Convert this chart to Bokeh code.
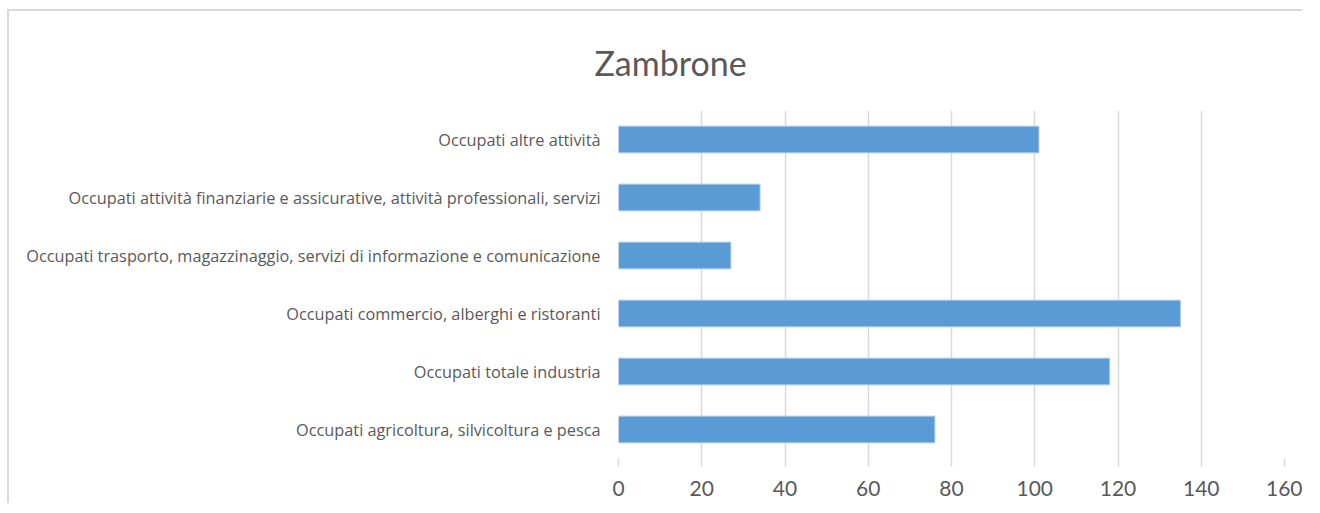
from bokeh.plotting import figure
from bokeh.models import Range1d, FactorRange
from bokeh.embed import file_html
from bokeh.resources import INLINE

title_text = "Zambrone"
categories = [
    "Occupati agricoltura, silvicoltura e pesca",
    "Occupati totale industria",
    "Occupati commercio, alberghi e ristoranti",
    "Occupati trasporto, magazzinaggio, servizi di informazione e comunicazione",
    "Occupati attività finanziarie e assicurative, attività professionali, servizi",
    "Occupati altre attività",
]
values = [76, 118, 135, 27, 34, 101]
x_ticks = [0, 20, 40, 60, 80, 100, 120, 140, 160]

FONT = "Lato"
LABEL_FONT = "Open Sans"
GREY = "#595959"

p = figure(
    width=1295, height=494,
    y_range=FactorRange(factors=categories),
    x_range=Range1d(0, 160),
    output_backend="svg", toolbar_location=None,
    min_border_left=609, min_border_right=20, min_border_top=99, min_border_bottom=47,
)
p.margin = (9, 0, 0, 7)
p.styles = {"border-left": "2px solid #d9d9d9", "border-top": "2px solid #d9d9d9"}

p.hbar(y=categories, right=values, left=0, height=0.46,
       fill_color="#5b9bd5", line_color="#a9c8ea", line_width=1)

p.title.text = title_text
p.title.align = "left"
p.title.offset = -24
p.title.standoff = 56
p.title.text_font = FONT
p.title.text_font_size = "34px"
p.title.text_font_style = "normal"
p.title.text_color = GREY

p.outline_line_color = None
p.background_fill_color = "white"
p.border_fill_color = "white"

p.ygrid.grid_line_color = None
p.xgrid.grid_line_color = "#d9d9d9"
p.xgrid.grid_line_width = 1.5
p.xaxis.ticker = x_ticks

p.xaxis.axis_line_color = None
p.xaxis.major_tick_line_color = "#d9d9d9"
p.xaxis.major_tick_line_width = 1.5
p.xaxis.major_tick_out = 8
p.xaxis.major_tick_in = 0
p.xaxis.minor_tick_line_color = None
p.xaxis.major_label_text_font = FONT
p.xaxis.major_label_text_font_size = "21px"
p.xaxis.major_label_text_color = GREY
p.xaxis.major_label_standoff = 14

p.yaxis.axis_line_color = None
p.yaxis.major_tick_line_color = None
p.yaxis.minor_tick_line_color = None
p.yaxis.major_label_text_font = LABEL_FONT
p.yaxis.major_label_text_font_size = "16.3px"
p.yaxis.major_label_text_color = GREY
p.yaxis.major_label_standoff = 12

open("out.html", "w").write(file_html(p, INLINE))
